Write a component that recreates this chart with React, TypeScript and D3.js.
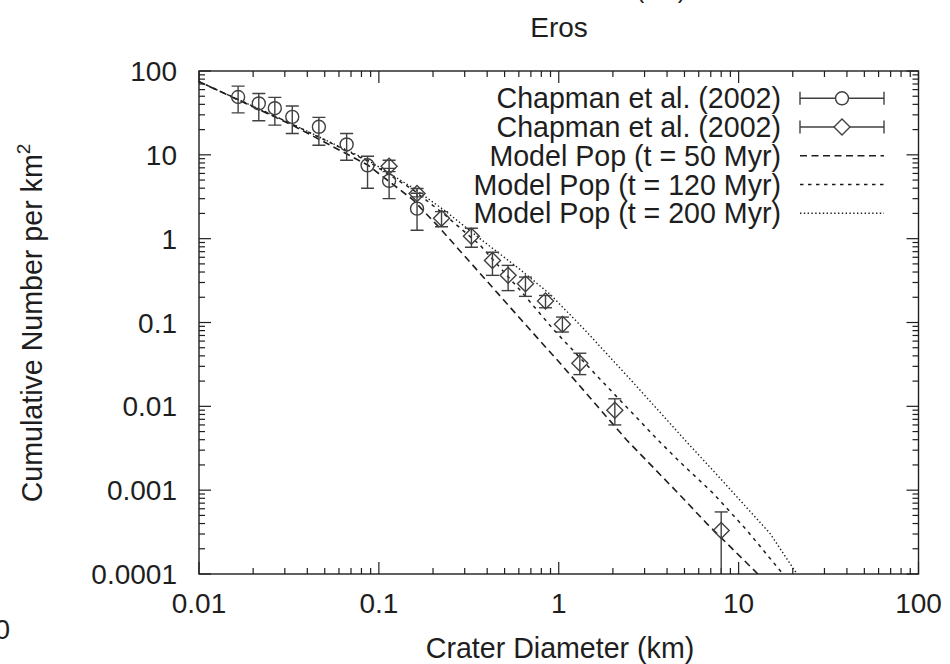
import React from "react";
import * as d3 from "d3";

// ---------- data ----------
const TITLE = "Eros";
const X_TITLE = "Crater Diameter (km)";
const Y_TITLE = "Cumulative Number per km";

const X_TICKS = [0.01, 0.1, 1, 10, 100];
const X_TICK_LABELS = ["0.01", "0.1", "1", "10", "100"];
const Y_TICKS = [0.0001, 0.001, 0.01, 0.1, 1, 10, 100];
const Y_TICK_LABELS = ["0.0001", "0.001", "0.01", "0.1", "1", "10", "100"];

const SERIES_LABELS = [
  "Chapman et al. (2002)",
  "Chapman et al. (2002)",
  "Model Pop (t = 50 Myr)",
  "Model Pop (t = 120 Myr)",
  "Model Pop (t = 200 Myr)",
];

// Chapman et al. (2002) — circles
const CIRC_D = [0.0165, 0.0215, 0.0264, 0.033, 0.0464, 0.0662, 0.0865, 0.114, 0.163];
const CIRC_N = [49, 41, 36, 28.4, 21.6, 13.3, 7.5, 4.9, 2.28];
const CIRC_LO = [31.7, 25.5, 22.6, 18, 13, 8.6, 4.0, 3.0, 1.26];
const CIRC_HI = [66, 54, 48.5, 38.2, 28, 18, 9.6, 6.9, 3.48];

// Chapman et al. (2002) — diamonds
const DIAM_D = [0.114, 0.163, 0.223, 0.327, 0.428, 0.523, 0.653, 0.844, 1.048, 1.31, 2.05, 8.0];
const DIAM_N = [7.3, 3.45, 1.75, 1.07, 0.55, 0.365, 0.29, 0.18, 0.095, 0.0327, 0.009, 0.00033];
const DIAM_LO = [6.3, 3.15, 1.39, 0.79, 0.365, 0.24, 0.205, 0.15, 0.077, 0.0239, 0.006, 0.00001];
const DIAM_HI = [8.6, 3.96, 2.1, 1.33, 0.69, 0.48, 0.348, 0.21, 0.116, 0.043, 0.0123, 0.00055];

// Model populations
const M50_D = [0.01, 0.0329, 0.0866, 0.1553, 0.2186, 0.3648, 0.7216, 1.0155, 2.385, 4.717, 6.639, 12.8];
const M50_N = [74.6, 22.7, 7.56, 2.89, 1.329, 0.3862, 0.0743, 0.03286, 0.003967, 0.000875, 0.000402, 0.0001];
const M120_D = [0.01, 0.0329, 0.0866, 0.1553, 0.2331, 0.3648, 0.6087, 0.9403, 1.694, 3.559, 4.717, 7.224, 11.08, 17.63];
const M120_N = [74.6, 23.3, 8.44, 3.81, 1.915, 0.84, 0.2441, 0.0813, 0.02118, 0.003967, 0.002167, 0.000917, 0.0003346, 0.0001];
const M200_D = [0.01, 0.0329, 0.0866, 0.1553, 0.2331, 0.3648, 0.6087, 0.8934, 1.398, 2.52, 5.03, 7.87, 14.93, 21.1];
const M200_N = [74.6, 23.3, 8.68, 4.02, 2.15, 1.0, 0.43, 0.218, 0.0813, 0.0206, 0.003967, 0.001396, 0.0003057, 0.0001];

// ---------- layout ----------
const W = 950;
const H = 664;
const PL = 199, PR = 918.5, PT = 71, PB = 574;
const FONT = "'Liberation Sans', Arial, Helvetica, sans-serif";
const FS = 28;
const FS_L = 28.6;
const INK = "#1e1e1e";
const MARK = "#404040";

export default function App() {
  const x = d3.scaleLog().domain([0.01, 100]).range([PL, PR]);
  const y = d3.scaleLog().domain([1e-4, 100]).range([PB, PT]);

  const minorX: number[] = [];
  for (let i = 0; i < X_TICKS.length - 1; i++)
    for (let k = 2; k <= 9; k++) minorX.push(X_TICKS[i] * k);
  const minorY: number[] = [];
  for (let i = 0; i < Y_TICKS.length - 1; i++)
    for (let k = 2; k <= 9; k++) minorY.push(Y_TICKS[i] * k);

  const line = d3
    .line<[number, number]>()
    .x((d) => x(d[0]))
    .y((d) => y(d[1]));

  const m50 = M50_D.map((d, i) => [d, M50_N[i]] as [number, number]);
  const m120 = M120_D.map((d, i) => [d, M120_N[i]] as [number, number]);
  const m200 = M200_D.map((d, i) => [d, M200_N[i]] as [number, number]);

  const models = [
    { pts: m50, dash: "7,4.5", w: 1.6 },
    { pts: m120, dash: "3.5,4.5", w: 1.5 },
    { pts: m200, dash: "1.4,2.4", w: 1.4 },
  ];

  const CAP = 6.5;
  const R = 6.5;
  const DS = 8;

  const errBar = (xd: number, lo: number, hi: number, key: string) => {
    const cx = x(xd);
    return (
      <g key={key}>
        <line x1={cx} x2={cx} y1={y(lo)} y2={y(hi)} />
        <line x1={cx - CAP} x2={cx + CAP} y1={y(lo)} y2={y(lo)} />
        <line x1={cx - CAP} x2={cx + CAP} y1={y(hi)} y2={y(hi)} />
      </g>
    );
  };

  const diamondPath = (cx: number, cy: number) =>
    `M${cx},${cy - DS}L${cx + DS},${cy}L${cx},${cy + DS}L${cx - DS},${cy}Z`;

  const LEG_TEXT_X = 781;
  const LEG_X1 = 800;
  const LEG_X2 = 884;
  const legY = (i: number) => 98.3 + 28.75 * i;

  return (
    <svg
      width={W}
      height={H}
      style={{ position: "absolute", left: 0, top: 0, background: "#fff" }}
      fontFamily={FONT}
    >
      <defs>
        <clipPath id="plotclip">
          <rect x={PL} y={PT} width={PR - PL} height={PB - PT} />
        </clipPath>
      </defs>
      <rect x={0} y={0} width={W} height={H} fill="#fff" />

      {/* fragments of neighbouring panels */}
      <text x={636} y={-2} fontSize={25} fill={INK}>(km)</text>
      <text x={10} y={639} fontSize={FS} fill={INK} textAnchor="end">100</text>

      {/* title */}
      <text x={559} y={37} fontSize={FS} textAnchor="middle" fill={INK}>
        {TITLE}
      </text>

      {/* ticks */}
      <g stroke={INK} strokeWidth={1.2}>
        {X_TICKS.map((t) => (
          <g key={"xt" + t}>
            <line x1={x(t)} x2={x(t)} y1={PB} y2={PB - 12} />
            <line x1={x(t)} x2={x(t)} y1={PT} y2={PT + 12} />
          </g>
        ))}
        {minorX.map((t) => (
          <g key={"xm" + t}>
            <line x1={x(t)} x2={x(t)} y1={PB} y2={PB - 6} />
            <line x1={x(t)} x2={x(t)} y1={PT} y2={PT + 6} />
          </g>
        ))}
        {Y_TICKS.map((t) => (
          <g key={"yt" + t}>
            <line x1={PL} x2={PL + 12} y1={y(t)} y2={y(t)} />
            <line x1={PR} x2={PR - 12} y1={y(t)} y2={y(t)} />
          </g>
        ))}
        {minorY.map((t) => (
          <g key={"ym" + t}>
            <line x1={PL} x2={PL + 6} y1={y(t)} y2={y(t)} />
            <line x1={PR} x2={PR - 6} y1={y(t)} y2={y(t)} />
          </g>
        ))}
      </g>

      {/* tick labels */}
      <g fontSize={FS} fill={INK}>
        {X_TICKS.map((t, i) => (
          <text key={"xl" + t} x={x(t)} y={PB + 39} textAnchor="middle">
            {X_TICK_LABELS[i]}
          </text>
        ))}
        {Y_TICKS.map((t, i) => (
          <text key={"yl" + t} x={PL - 22} y={y(t) + 10} textAnchor="end">
            {Y_TICK_LABELS[i]}
          </text>
        ))}
      </g>

      {/* axis titles */}
      <text x={560} y={658} fontSize={FS_L} textAnchor="middle" fill={INK}>
        {X_TITLE}
      </text>
      <text
        transform={`translate(42,323) rotate(-90)`}
        fontSize={FS_L}
        textAnchor="middle"
        fill={INK}
      >
        {Y_TITLE}
        <tspan fontSize={19} dy={-12}>2</tspan>
      </text>

      {/* model curves */}
      <g clipPath="url(#plotclip)" fill="none" stroke={INK}>
        {models.map((m, i) => (
          <path key={"m" + i} d={line(m.pts) || ""} strokeDasharray={m.dash} strokeWidth={m.w} />
        ))}
      </g>

      {/* data */}
      <g clipPath="url(#plotclip)" stroke={MARK} strokeWidth={1.4} fill="none">
        {CIRC_D.map((d, i) => errBar(d, CIRC_LO[i], CIRC_HI[i], "ce" + i))}
        {CIRC_D.map((d, i) => (
          <circle key={"c" + i} cx={x(d)} cy={y(CIRC_N[i])} r={R} />
        ))}
        {DIAM_D.map((d, i) => errBar(d, DIAM_LO[i], DIAM_HI[i], "de" + i))}
        {DIAM_D.map((d, i) => (
          <path key={"d" + i} d={diamondPath(x(d), y(DIAM_N[i]))} />
        ))}
      </g>

      {/* legend */}
      <g fontSize={FS_L} fill={INK}>
        {SERIES_LABELS.map((s, i) => (
          <text key={"lt" + i} x={LEG_TEXT_X} y={legY(i) + 10} textAnchor="end">
            {s}
          </text>
        ))}
      </g>
      <g stroke={MARK} strokeWidth={1.4} fill="none">
        {[0, 1].map((i) => (
          <g key={"ls" + i}>
            <line x1={LEG_X1} x2={LEG_X2} y1={legY(i)} y2={legY(i)} />
            <line x1={LEG_X1} x2={LEG_X1} y1={legY(i) - CAP} y2={legY(i) + CAP} />
            <line x1={LEG_X2} x2={LEG_X2} y1={legY(i) - CAP} y2={legY(i) + CAP} />
          </g>
        ))}
        <circle cx={(LEG_X1 + LEG_X2) / 2} cy={legY(0)} r={R} fill="#fff" />
        <path d={diamondPath((LEG_X1 + LEG_X2) / 2, legY(1))} fill="#fff" />
      </g>
      <g stroke={INK} fill="none">
        {models.map((m, i) => (
          <line
            key={"lm" + i}
            x1={LEG_X1}
            x2={LEG_X2}
            y1={legY(i + 2)}
            y2={legY(i + 2)}
            strokeDasharray={m.dash}
            strokeWidth={m.w}
          />
        ))}
      </g>

      {/* frame */}
      <rect x={PL} y={PT} width={PR - PL} height={PB - PT} fill="none" stroke={INK} strokeWidth={1.4} />
    </svg>
  );
}
